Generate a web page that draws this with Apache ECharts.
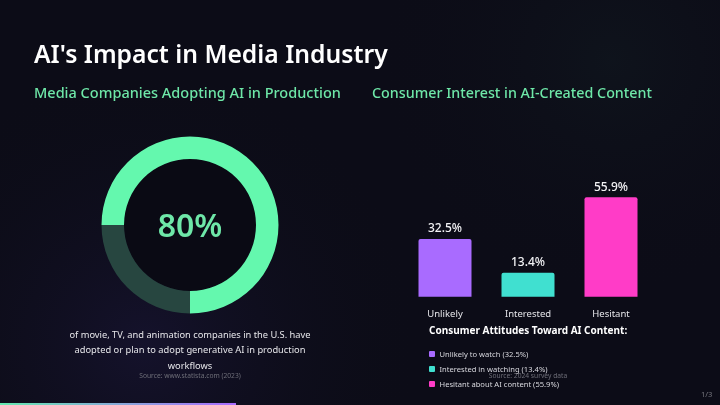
<!DOCTYPE html>
<html>
<head>
<meta charset="utf-8">
<style>
  html, body { margin: 0; padding: 0; background: #0c0c17; }
  #chart { width: 720px; height: 405px; }
</style>
<script src="https://cdn.jsdelivr.net/npm/echarts@6/dist/echarts.min.js"></script>
</head>
<body>
<div id="chart"></div>
<script>
const FONT = '"Noto Sans", "Open Sans", sans-serif';

const donutValues = [75, 25];
const donutLabel = '80%';
const donutCaption = [
  'of movie, TV, and animation companies in the U.S. have',
  'adopted or plan to adopt generative AI in production',
  'workflows'
];
const categories = ['Unlikely', 'Interested', 'Hesitant'];
const interest = [32.5, 13.4, 55.9];
const barColors = ['#a96bff', '#40e0d0', '#ff3cc7'];
const legendLabels = [
  'Unlikely to watch (32.5%)',
  'Interested in watching (13.4%)',
  'Hesitant about AI content (55.9%)'
];

const chart = echarts.init(document.getElementById('chart'), null, { renderer: 'canvas' });

function text(left, top, str, size, color, extra) {
  return {
    type: 'text',
    left,
    top,
    silent: true,
    z: 3,
    style: { text: str, fontFamily: FONT, fontSize: size, fill: color, ...extra }
  };
}

function centered(x, y, str, size, color, extra) {
  return {
    type: 'text',
    x,
    y,
    silent: true,
    z: 3,
    style: {
      text: str, fontFamily: FONT, fontSize: size, fill: color,
      textAlign: 'center', textVerticalAlign: 'middle', ...extra
    }
  };
}

function glow(cx, cy, r, color) {
  return {
    type: 'rect',
    silent: true,
    z: 0,
    shape: { x: 0, y: 0, width: 720, height: 405 },
    style: {
      fill: new echarts.graphic.RadialGradient(cx, cy, r, [
        { offset: 0, color },
        { offset: 1, color: 'rgba(10,10,20,0)' }
      ])
    }
  };
}

// 说明文字和图例都用 graphic 画
const captionItems = donutCaption.map((line, i) =>
  centered(190, 335 + i * 15.5, line, 9.3, '#e6e6ea'));

const legendItems = legendLabels.flatMap((label, i) => {
  const y = 354 + i * 15;
  return [
    {
      type: 'rect',
      silent: true,
      z: 3,
      shape: { x: 429, y: y - 3, width: 6, height: 6, r: 1 },
      style: { fill: barColors[i] }
    },
    {
      type: 'text',
      x: 439.5,
      y: y + 0.5,
      silent: true,
      z: 3,
      style: {
        text: label, fontFamily: FONT, fontSize: 7.6, fill: '#d8d8de',
        textVerticalAlign: 'middle'
      }
    }
  ];
});

chart.setOption({
  animation: false,
  backgroundColor: '#0c0c17',
  grid: { left: 403.5, top: 170, width: 249, height: 126.7 },
  xAxis: {
    type: 'category',
    data: categories,
    axisLine: { show: false },
    axisTick: { show: false },
    axisLabel: { color: '#e6e6ea', fontFamily: FONT, fontSize: 9.5, margin: 13 }
  },
  yAxis: { type: 'value', min: 0, max: 71.25, show: false },
  series: [
    {
      type: 'pie',
      center: [190, 225],
      radius: [66, 88.5],
      startAngle: 180,
      silent: true,
      label: { show: false },
      labelLine: { show: false },
      data: [
        { value: donutValues[0], itemStyle: { color: '#64f8ae' } },
        { value: donutValues[1], itemStyle: { color: '#274640' } }
      ]
    },
    {
      type: 'bar',
      barWidth: 53,
      silent: true,
      data: interest.map((v, i) => ({
        value: v,
        itemStyle: { color: barColors[i], borderRadius: [2, 2, 0, 0] }
      })),
      label: {
        show: true,
        position: 'top',
        distance: 4,
        color: '#f2f2f5',
        fontFamily: FONT,
        fontSize: 12,
        fontWeight: 500,
        formatter: p => p.value + '%'
      }
    }
  ],
  graphic: [
    glow(0.2, 0.85, 0.7, 'rgba(110,80,255,0.09)'),
    glow(0.85, 0.15, 0.6, 'rgba(90,240,180,0.03)'),
    {
      type: 'circle', silent: true, z: 1,
      shape: { cx: 190, cy: 225, r: 66 },
      style: { fill: '#0a0a14' }
    },
    text(34, 43, "AI's Impact in Media Industry", 24.7, '#ffffff', { fontWeight: 600 }),
    text(34, 86, 'Media Companies Adopting AI in Production', 14.5, '#6ee7a8', { fontWeight: 500 }),
    text(372, 87, 'Consumer Interest in AI-Created Content', 14.3, '#6ee7a8', { fontWeight: 500 }),
    centered(190, 228, donutLabel, 32, '#6ee7a8', { fontWeight: 600 }),
    ...captionItems,
    centered(190, 376, 'Source: www.statista.com (2023)', 6.7, '#6e6e78'),
    text(429, 326, 'Consumer Attitudes Toward AI Content:', 10, '#ffffff', { fontWeight: 700 }),
    ...legendItems,
    centered(528, 376, 'Source: 2024 survey data', 6.7, '#6e6e78'),
    text(701, 391, '1/3', 7.5, '#77777f'),
    {
      type: 'rect', silent: true, z: 3,
      shape: { x: 0, y: 403, width: 236, height: 2 },
      style: {
        fill: new echarts.graphic.LinearGradient(0, 0, 1, 0, [
          { offset: 0, color: '#64e8b0' },
          { offset: 1, color: '#a96bff' }
        ])
      }
    }
  ]
});
</script>
</body>
</html>
